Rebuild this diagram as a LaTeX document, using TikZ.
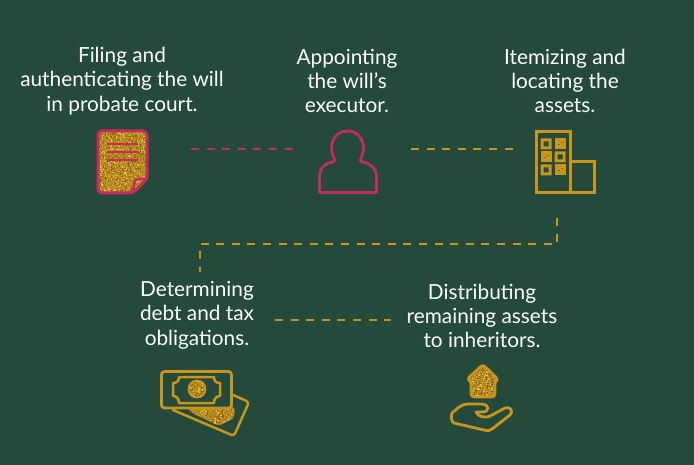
\documentclass[tikz,border=0pt]{standalone}
\usepackage{fontspec}
\setmainfont{Lato}
\definecolor{bgc}{HTML}{234A3A}
\definecolor{pinkc}{HTML}{C92A5E}
\definecolor{goldc}{HTML}{C8961C}
\definecolor{gbase}{HTML}{B98A1E}
\definecolor{gdark}{HTML}{8A6412}
\definecolor{glight}{HTML}{E3BE55}
\tikzset{
  lbl/.style={text=white,align=center,font=\fontsize{20.8}{24.4}\selectfont,inner sep=0pt},
  dashpink/.style={draw=pinkc,line width=2pt,dash pattern=on 8pt off 7.6pt},
  dashgold/.style={draw=goldc,line width=2pt,dash pattern=on 8pt off 7.6pt},
  icopink/.style={draw=pinkc,line width=3pt,line join=round,line cap=round},
  icogold/.style={draw=goldc,line width=3pt,line join=round,line cap=round},
}
% random glitter inside the current clip
\newcommand{\glitterfill}[5]{%
  \fill[gbase] (#1,#2) rectangle (#3,#4);
  \foreach \k in {1,...,#5}{%
    \pgfmathsetmacro{\gx}{#1+rnd*(#3-#1)}%
    \pgfmathsetmacro{\gy}{#2+rnd*(#4-#2)}%
    \pgfmathsetmacro{\gt}{rnd}%
    \pgfmathsetmacro{\gc}{\gt<0.55?"gdark":"glight"}%
    \fill[\gc] (\gx,\gy) rectangle ++(1.1,1.1);
  }%
}
\begin{document}
\begin{tikzpicture}[x=1pt,y=-1pt]
\useasboundingbox (0,0) rectangle (694,465);
\fill[bgc] (0,0) rectangle (694,465);
\pgfmathsetseed{4242}

% labels
\node[lbl] (t1) at (122,81) {Filing and\\authenticating the will\\in probate court.};
\node[lbl] (t2) at (347,81) {Appointing\\the will’s\\executor.};
\node[lbl] (t3) at (565,81) {Itemizing and\\locating the\\assets.};
\node[lbl] (t4) at (197,315) {Determining\\debt and tax\\obligations.};
\node[lbl] (t5) at (482,316) {Distributing\\remaining assets\\to inheritors.};

% document icon
\begin{scope}
  \clip[rounded corners=4pt] (98,131) -- (147,131) -- (147,179) -- (133,193) -- (98,193) -- cycle;
  \glitterfill{96}{129}{149}{195}{1100}
\end{scope}
\draw[icopink,rounded corners=4pt] (98,131) -- (147,131) -- (147,179) -- (133,193) -- (98,193) -- cycle;
\draw[icopink,rounded corners=2pt,line width=2.4pt] (147,179) -- (135,179) -- (133,193);
\foreach \yy in {144,152,160}{\draw[draw=pinkc,line width=2.2pt] (107,\yy) -- (138,\yy);}

% person icon
\draw[icopink,line width=2.8pt]
  (319.5,192.5) -- (319.5,177)
  .. controls (319.5,168) and (325,163) .. (333,162)
  .. controls (335.5,161.5) and (335,160) .. (334,158)
  .. controls (328,147) and (333,131) .. (347.5,131)
  .. controls (362,131) and (367,147) .. (361,158)
  .. controls (360,160) and (360,161.5) .. (362.5,162)
  .. controls (370,163) and (376.5,168) .. (376.5,177)
  -- (376.5,192.5) -- cycle;

% building icon
\draw[icogold,line cap=butt,line join=miter] (536,131.5) rectangle (570,192.5);
\draw[icogold,line cap=butt,line join=miter] (570,162) rectangle (594,192.5);
\foreach \wx/\wy in {546/144,560/157,546/170}{
  \fill[goldc,even odd rule] (\wx-5.5,\wy-5.5) rectangle (\wx+5.5,\wy+5.5) (\wx-2.5,\wy-2.5) rectangle (\wx+2.5,\wy+2.5);
}
\foreach \wx/\wy in {560/144,546/157,560/170}{
  \fill[goldc] (\wx-5.5,\wy-5.5) rectangle (\wx+5.5,\wy+5.5);
  \fill[gdark] (\wx-2,\wy) rectangle ++(1.5,1.5);
  \fill[gdark] (\wx+1,\wy-2) rectangle ++(1.5,1.5);
}

% money icon
\begin{scope}
  \clip[rounded corners=3pt] (189,407) -- (235,407) -- (234,418) -- (219,426) -- (190,412) -- cycle;
  \glitterfill{185}{404}{238}{428}{340}
\end{scope}
\draw[icogold,line width=2.5pt,rounded corners=3pt] (233,395) -- (249,402) -- (234,436) -- (173,410);
\draw[icogold,line width=2.8pt,rounded corners=3pt] (161.5,371.5) rectangle (231.5,408);
\draw[icogold,line width=2.5pt] (179,377) -- (214,377) .. controls (214,381) and (216,383) .. (220,383)
  -- (220,396) .. controls (216,396) and (214,399) .. (214,403)
  -- (179,403) .. controls (179,399) and (177,396) .. (173,396)
  -- (173,383) .. controls (177,383) and (179,381) .. (179,377) -- cycle;
\begin{scope}
  \clip (197,389) circle (9);
  \glitterfill{187}{379}{207}{399}{130}
\end{scope}
\draw[goldc,line width=1.6pt] (197,389) circle (8.6);

% house and hand icon
\begin{scope}
  \clip[rounded corners=3pt] (483,364.5) -- (498,379) -- (495,381) -- (495,397) -- (471,397) -- (471,381) -- (467,379) -- cycle;
  \glitterfill{465}{363}{500}{399}{500}
\end{scope}
\draw[icogold,line width=2.6pt,rounded corners=3pt] (483,364.5) -- (498,379) -- (495,381) -- (495,397) -- (471,397) -- (471,381) -- (467,379) -- cycle;
\draw[icogold,line width=2.8pt]
  (452,413) .. controls (457,409) and (461,404) .. (468,404)
  -- (481,404) .. controls (490,404) and (490,412) .. (482,412)
  -- (476,412) .. controls (478,417) and (486,419) .. (492,415)
  -- (505,408) .. controls (510,406) and (514,411) .. (510,415)
  -- (492,429) .. controls (489,431) and (487,431) .. (484,430)
  -- (454,423) .. controls (451,422) and (451,415) .. (452,413) -- cycle;

% connectors
\coordinate (c1a) at (191,149); \coordinate (c1b) at (295,149);
\coordinate (c2a) at (411,149); \coordinate (c2b) at (515,149);
\coordinate (c3a) at (557,218); \coordinate (c3b) at (557,244);
\coordinate (c3c) at (200,244); \coordinate (c3d) at (200,272);
\coordinate (c4a) at (275,320); \coordinate (c4b) at (391,320);
\draw[dashpink] (c1a) -- (c1b);
\draw[dashgold] (c2a) -- (c2b);
\draw[dashgold] (c3a) -- (c3b) -- (c3c) -- (c3d);
\draw[dashgold] (c4a) -- (c4b);
\end{tikzpicture}
\end{document}
